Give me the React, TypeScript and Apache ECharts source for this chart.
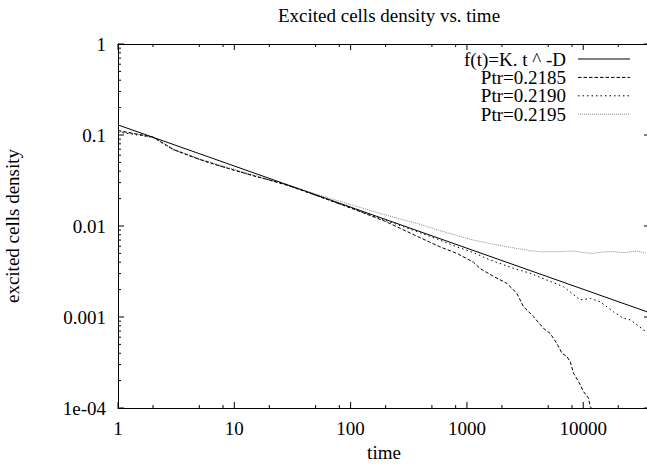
import React, { useEffect, useRef } from "react";
import * as echarts from "echarts";

const FONT = "'Liberation Serif', 'Times New Roman', serif";
const FS = 19;

const titleText = "Excited cells density vs. time";
const xName = "time";
const yName = "excited cells density";
const legendLabels = ["f(t)=K. t ^ -D", "Ptr=0.2185", "Ptr=0.2190", "Ptr=0.2195"];

const xMajor = [1, 10, 100, 1000, 10000];
const xMinor = [2, 5, 8, 20, 50, 80, 200, 500, 800, 2000, 5000, 8000, 20000];
const yMajor = [0.0001, 0.001, 0.01, 0.1, 1];
const yMajorLabels = ["1e-04", "0.001", "0.01", "0.1", "1"];
const yMinorMult = [2, 3, 4, 5, 6, 7, 8, 9];
const yDecades = [0.0001, 0.001, 0.01, 0.1];

// fitted power law f(t)=K t^-D (straight line in log-log), endpoints
const tFit = [1, 37500];
const vFit = [0.129, 0.00111];

const t2185 = [1, 2, 3, 5, 7, 10, 15, 20, 30, 50, 100, 200, 418, 586, 820, 1138, 1300, 1690, 2205, 2686, 3063, 3736, 4550, 5200, 5940, 6560, 7250, 7730, 8260, 9120, 10070, 11120, 11490, 12190];
const v2185 = [0.112, 0.095, 0.069, 0.054, 0.047, 0.041, 0.0353, 0.032, 0.0275, 0.0218, 0.0158, 0.0112, 0.0072, 0.0059, 0.005, 0.004, 0.0034, 0.0028, 0.00234, 0.00182, 0.0013, 0.00101, 0.00075, 0.00066, 0.00051, 0.0004, 0.000366, 0.000323, 0.00024, 0.000195, 0.000151, 0.000128, 0.000103, 0.0000955];

const t2190 = [1, 2, 3, 5, 7, 10, 15, 20, 30, 50, 100, 200, 400, 586, 820, 1138, 1585, 2513, 3500, 4870, 6780, 9420, 11480, 14000, 18200, 22200, 25400, 29000, 33000, 35300];
const v2190 = [0.108, 0.094, 0.069, 0.054, 0.047, 0.041, 0.0353, 0.032, 0.0275, 0.0218, 0.0158, 0.0115, 0.0084, 0.007, 0.0059, 0.0051, 0.00423, 0.00343, 0.00302, 0.00255, 0.00215, 0.00154, 0.0016, 0.00147, 0.00114, 0.00097, 0.00093, 0.00082, 0.00072, 0.00069];

const t2195 = [1, 2, 3, 5, 7, 10, 15, 20, 30, 50, 100, 200, 400, 586, 820, 1132, 1600, 2208, 3499, 4500, 5940, 8200, 10000, 12190, 15000, 18100, 23000, 29200, 34300];
const v2195 = [0.11, 0.095, 0.07, 0.055, 0.048, 0.042, 0.036, 0.0323, 0.0278, 0.0225, 0.0172, 0.0132, 0.0104, 0.00888, 0.00787, 0.00702, 0.0064, 0.00592, 0.00535, 0.0052, 0.00522, 0.00531, 0.0051, 0.00501, 0.0052, 0.00522, 0.0051, 0.00531, 0.00503];

const zip = (a: number[], b: number[]) => a.map((t, i) => [t, b[i]]);

const lineStyles: any[] = [
  { color: "#000", width: 1, type: "solid" },
  { color: "#000", width: 1, type: [3.5, 2] },
  { color: "#000", width: 1, type: [1.5, 3] },
  { color: "#8a8a8a", width: 1, type: [1, 1] },
];

export default function App() {
  const ref = useRef<HTMLDivElement>(null);
  useEffect(() => {
    if (!ref.current) return;
    const chart = echarts.init(ref.current, undefined, { renderer: "svg" });
    const yMinor: number[] = [];
    yDecades.forEach((d) => yMinorMult.forEach((m) => yMinor.push(d * m)));

    const X_MIN = 1;
    const X_MAX = 37500;
    const Y_MIN = 0.0001;
    const Y_MAX = 1;
    const black = { color: "#000", width: 1 };
    const MAJOR_LEN = 6;
    const MINOR_LEN = 3;

    const noSplit = {
      splitLine: { show: false },
      minorTick: { show: false },
      minorSplitLine: { show: false },
    };

    const yFmt = (v: number) => {
      const e = Math.round(Math.log10(v));
      const idx = yMajor.findIndex((m) => Math.round(Math.log10(m)) === e);
      return idx >= 0 ? yMajorLabels[idx] : "";
    };

    // tick marks drawn through the log axes (bottom+top mirrored, left+right mirrored)
    const xTickData = [
      ...xMajor.map((v) => [v, Y_MIN, 1]),
      ...xMinor.map((v) => [v, Y_MIN, 0]),
    ];
    const yTickData = [
      ...yMajor.map((v) => [X_MIN, v, 1]),
      ...yMinor.map((v) => [X_MIN, v, 0]),
    ];
    const tickStyle = { stroke: "#000", lineWidth: 1 };

    const xTicks = {
      type: "custom",
      xAxisIndex: 0,
      yAxisIndex: 0,
      clip: false,
      silent: true,
      z: 10,
      encode: { x: 0, y: 1 },
      data: xTickData,
      renderItem: (params: any, api: any) => {
        const v = api.value(0);
        const len = api.value(2) ? MAJOR_LEN : MINOR_LEN;
        const p = api.coord([v, Y_MIN]);
        const q = api.coord([v, Y_MAX]);
        return {
          type: "group",
          children: [
            { type: "line", shape: { x1: p[0], y1: p[1], x2: p[0], y2: p[1] - len }, style: tickStyle },
            { type: "line", shape: { x1: q[0], y1: q[1], x2: q[0], y2: q[1] + len }, style: tickStyle },
          ],
        };
      },
    };
    const yTicks = {
      type: "custom",
      xAxisIndex: 0,
      yAxisIndex: 0,
      clip: false,
      silent: true,
      z: 10,
      encode: { x: 0, y: 1 },
      data: yTickData,
      renderItem: (params: any, api: any) => {
        const v = api.value(1);
        const len = api.value(2) ? MAJOR_LEN : MINOR_LEN;
        const p = api.coord([X_MIN, v]);
        const q = api.coord([X_MAX, v]);
        return {
          type: "group",
          children: [
            { type: "line", shape: { x1: p[0], y1: p[1], x2: p[0] + len, y2: p[1] }, style: tickStyle },
            { type: "line", shape: { x1: q[0], y1: q[1], x2: q[0] - len, y2: q[1] }, style: tickStyle },
          ],
        };
      },
    };

    chart.setOption({
      animation: false,
      backgroundColor: "#fff",
      title: {
        text: titleText,
        left: 384,
        top: 1,
        textAlign: "center",
        textStyle: { fontFamily: FONT, fontSize: FS, fontWeight: "normal", color: "#000" },
      },
      grid: {
        left: 118,
        top: 44,
        right: -3,
        bottom: 58,
        containLabel: false,
        outerBoundsMode: "none",
      },
      xAxis: [
        {
          type: "log",
          logBase: 10,
          min: X_MIN,
          max: X_MAX,
          position: "bottom",
          axisLine: { show: true, onZero: false, lineStyle: black },
          axisTick: { show: false },
          axisLabel: {
            customValues: xMajor,
            formatter: (v: number) => String(Math.round(v)),
            fontFamily: FONT,
            fontSize: FS,
            color: "#000",
            margin: 11,
          },
          name: xName,
          nameLocation: "middle",
          nameGap: 34,
          nameTextStyle: { fontFamily: FONT, fontSize: FS, color: "#000" },
          ...noSplit,
        },
        {
          type: "log",
          logBase: 10,
          min: X_MIN,
          max: X_MAX,
          position: "top",
          axisLine: { show: true, onZero: false, lineStyle: black },
          axisTick: { show: false },
          axisLabel: { show: false },
          ...noSplit,
        },
      ],
      yAxis: [
        {
          type: "log",
          logBase: 10,
          min: Y_MIN,
          max: Y_MAX,
          position: "left",
          axisLine: { show: true, onZero: false, lineStyle: black },
          axisTick: { show: false },
          axisLabel: {
            customValues: yMajor,
            formatter: yFmt,
            fontFamily: FONT,
            fontSize: FS,
            color: "#000",
            margin: 12,
          },
          name: yName,
          nameLocation: "middle",
          nameGap: 96,
          nameTextStyle: { fontFamily: FONT, fontSize: FS, color: "#000" },
          ...noSplit,
        },
        {
          type: "log",
          logBase: 10,
          min: Y_MIN,
          max: Y_MAX,
          position: "right",
          axisLine: { show: true, onZero: false, lineStyle: black },
          axisTick: { show: false },
          axisLabel: { show: false },
          ...noSplit,
        },
      ],
      series: [
        ...[
          { name: legendLabels[0], data: zip(tFit, vFit) },
          { name: legendLabels[1], data: zip(t2185, v2185) },
          { name: legendLabels[2], data: zip(t2190, v2190) },
          { name: legendLabels[3], data: zip(t2195, v2195) },
        ].map((s, i) => ({
          ...s,
          type: "line",
          xAxisIndex: 0,
          yAxisIndex: 0,
          showSymbol: false,
          symbol: "none",
          clip: true,
          lineStyle: lineStyles[i],
          itemStyle: { color: lineStyles[i].color },
          emphasis: { disabled: true },
          z: 4 - i,
        })),
        xTicks,
        yTicks,
      ],
      graphic: legendLabels.flatMap((label, i) => {
        const y = 59 + i * 18.4;
        const ls = lineStyles[i];
        return [
          {
            type: "text",
            style: {
              text: label,
              x: 566,
              y,
              align: "right",
              verticalAlign: "middle",
              textAlign: "right",
              textVerticalAlign: "middle",
              fontFamily: FONT,
              fontSize: FS,
              lineHeight: 17,
              fill: "#000",
            },
          },
          {
            type: "line",
            shape: { x1: 578, y1: y, x2: 630, y2: y },
            style: {
              stroke: ls.color,
              lineWidth: 1,
              lineDash: ls.type === "solid" ? null : ls.type,
            },
          },
        ];
      }),
    });
    return () => chart.dispose();
  }, []);
  return (
    <div
      ref={ref}
      style={{ position: "absolute", left: 0, top: 0, width: 647, height: 466, background: "#fff" }}
    />
  );
}
